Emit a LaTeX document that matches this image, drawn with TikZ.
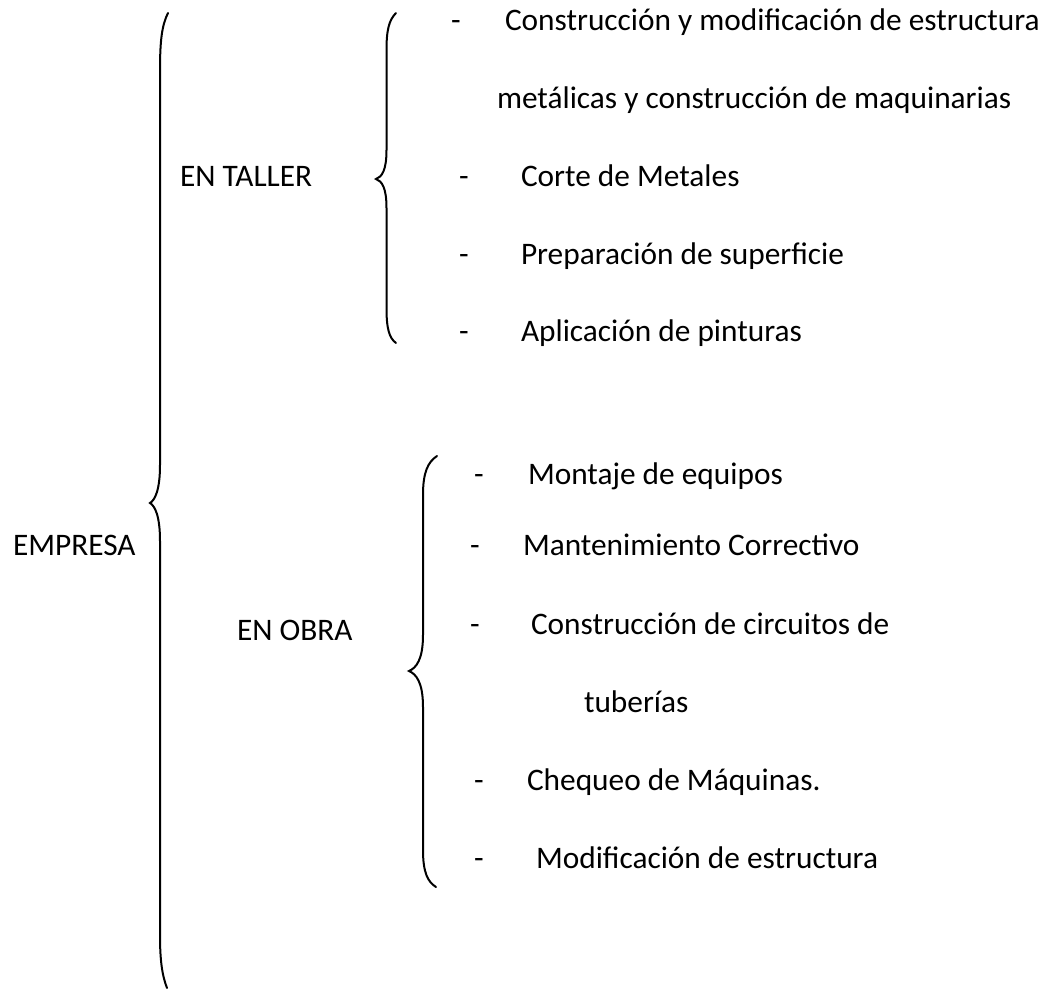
\documentclass[tikz,border=0pt]{standalone}
\usepackage{fontspec}
\setmainfont{Carlito}
\begin{document}
\begin{tikzpicture}[x=0.75pt,y=-0.75pt,
  txt/.style={anchor=base west,inner sep=0pt,outer sep=0pt,font=\fontsize{23.5pt}{28pt}\selectfont},
  brace/.style={line width=1.5pt,line cap=round}]
\useasboundingbox (0,0) rectangle (1061,990);
% main labels
\node[txt] (emp) at (13,555) {EMPRESA};
\node[txt] (tal) at (180,186) {EN TALLER};
\node[txt] (obr) at (237,640) {EN OBRA};
% big brace
\draw[brace] (168,13) .. controls (162,25) and (160,40) .. (160,70) -- (160,465)
  .. controls (160,490) and (155,500) .. (150,503)
  .. controls (155,506) and (160,516) .. (160,541) -- (160,935)
  .. controls (160,960) and (162,975) .. (167,988);
% taller brace
\draw[brace] (396,13) .. controls (389,20) and (386.5,30) .. (386.5,50) -- (386.5,150)
  .. controls (386.5,170) and (382,177) .. (376,179)
  .. controls (382,181) and (386.5,188) .. (386.5,208) -- (386.5,308)
  .. controls (386.5,328) and (389,338) .. (396,343);
% obra brace
\draw[brace] (437,456) .. controls (428,462) and (423,472) .. (423,495) -- (423,635)
  .. controls (423,660) and (416,668) .. (409,671)
  .. controls (416,674) and (423,682) .. (423,707) -- (423,850)
  .. controls (423,873) and (428,882) .. (436,887);
% taller items
\node[txt] (d1) at (451,30) {-};
\node[txt] (t1) at (505,30) {Construcción y modificación de estructura};
\node[txt] (t2) at (497,108) {metálicas y construcción de maquinarias};
\node[txt] (d3) at (459,186) {-};
\node[txt] (t3) at (521,186) {Corte de Metales};
\node[txt] (d4) at (459,264) {-};
\node[txt] (t4) at (521,264) {Preparación de superficie};
\node[txt] (d5) at (459,341) {-};
\node[txt] (t5) at (521,341) {Aplicación de pinturas};
% obra items
\node[txt] (o1d) at (474,484) {-};
\node[txt] (o1) at (528,484) {Montaje de equipos};
\node[txt] (o2d) at (470,555) {-};
\node[txt] (o2) at (523,555) {Mantenimiento Correctivo};
\node[txt] (o3d) at (470,634) {-};
\node[txt] (o3) at (531,634) {Construcción de circuitos de};
\node[txt] (o4) at (584,712) {tuberías};
\node[txt] (o5d) at (474,790) {-};
\node[txt] (o5) at (527,790) {Chequeo de Máquinas.};
\node[txt] (o6d) at (474,868) {-};
\node[txt] (o6) at (536,868) {Modificación de estructura};
\end{tikzpicture}
\end{document}
